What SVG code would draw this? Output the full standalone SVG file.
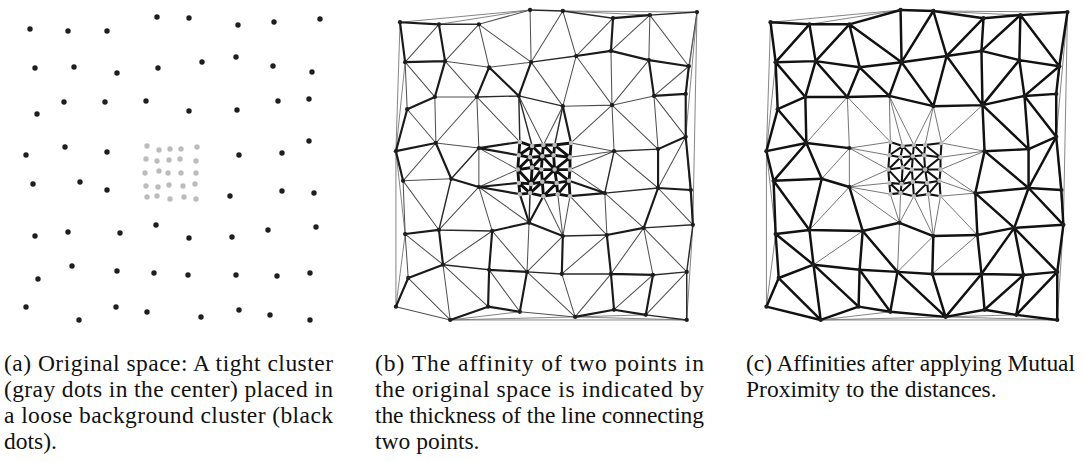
<svg xmlns="http://www.w3.org/2000/svg" xmlns:xlink="http://www.w3.org/1999/xlink" width="1084" height="462" viewBox="0 0 1084 462">
<style>
.e{fill:none;stroke-linecap:round;stroke-linejoin:round}
.hl{stroke:#7a7a7a;stroke-width:0.9}
.bL{stroke:#505050;stroke-width:1}
.bM{stroke:#2a2a2a;stroke-width:1.4}
.bT{stroke:#1a1a1a;stroke-width:2.1}
.bK{stroke:#111;stroke-width:2.8}
.cL{stroke:#6a6a6a;stroke-width:0.9}
.cT{stroke:#111;stroke-width:2.4}
.cK{stroke:#111;stroke-width:2}
.bk{fill:#1e1e1e}
.gr{fill:#bcbcbc}
.cap{font-family:"Liberation Serif","Times New Roman",serif;font-size:23.5px;fill:#111}
</style>
<defs>
<path id="hull" d="M30 29 157 17M68 31 157 17M189 18 320 19M189 18 274 22M30 29 26 155M35 68 26 155M26 155 26 307M26 155 35 236M35 236 26 307M320 19 316 227M320 19 309 99M320 19 309 141M309 141 316 227M316 227 310 320M79 320 310 320M79 320 147 312M79 320 201 317M201 317 310 320M201 317 270 315"/>
<path id="g1" d="M30 29 68 31M238 25 274 22M30 29 35 68M68 31 74 67M238 25 236 57M35 68 74 67M202 62 236 57M236 57 273 66M273 66 312 72M74 67 64 102M117 73 105 102M117 73 146 101M158 68 146 101M273 66 278 101M312 72 309 99M37 114 64 102M278 101 309 99M37 114 26 155M309 99 309 141M26 155 65 147M282 153 309 141M26 155 33 184M65 147 80 182M282 153 282 191M309 141 314 193M80 182 107 190M282 191 314 193M282 191 268 230M314 193 316 227M35 236 68 232M120 233 156 225M156 225 189 238M232 237 268 230M68 232 72 266M120 233 117 271M189 238 188 275M232 237 236 275M38 279 72 266M117 271 154 273M236 275 277 276M38 279 26 307M117 271 116 307M154 273 147 312M236 275 239 310M277 276 270 315M79 320 116 307M116 307 147 312M201 317 239 310M239 310 270 315"/>
<path id="g2" d="M189 111 197 147M107 152 147 146M107 152 146 159M107 190 146 186M107 190 147 197M230 196 195 184M230 196 196 199M156 225 147 197M156 225 170 199"/>
<path id="g3" d="M68 31 107 31M157 17 189 18M189 18 238 25M274 22 320 19M158 68 202 62M105 102 146 101M146 101 189 111M239 155 282 153M239 155 230 196M230 196 282 191M80 182 68 232M68 232 120 233M189 238 232 237M268 230 316 227M316 227 310 273M72 266 117 271M154 273 188 275M188 275 236 275M277 276 310 273M310 273 310 320M270 315 310 320"/>
<path id="g4" d="M146 101 147 146M146 101 159 150M189 111 181 149M107 152 80 182M156 225 157 196"/>
<path id="g5" d="M107 31 157 17M68 31 35 68M107 31 74 67M107 31 117 73M107 31 158 68M157 17 158 68M189 18 158 68M189 18 202 62M238 25 202 62M274 22 236 57M274 22 273 66M274 22 312 72M320 19 312 72M74 67 117 73M117 73 158 68M35 68 37 114M35 68 64 102M74 67 105 102M158 68 189 111M202 62 189 111M202 62 237 110M236 57 237 110M273 66 237 110M312 72 278 101M64 102 105 102M189 111 237 110M237 110 278 101M37 114 65 147M64 102 65 147M237 110 239 155M237 110 282 153M278 101 282 153M278 101 309 141M65 147 107 152M65 147 33 184M239 155 282 191M309 141 282 191M33 184 80 182M33 184 35 236M33 184 68 232M107 190 120 233M230 196 232 237M230 196 268 230M282 191 316 227M35 236 38 279M35 236 72 266M120 233 154 273M268 230 236 275M268 230 277 276M268 230 310 273M38 279 79 320M72 266 79 320M72 266 116 307M117 271 147 312M154 273 201 317M188 275 201 317M236 275 201 317M277 276 239 310M310 273 270 315M26 307 79 320M147 312 201 317"/>
<path id="g6" d="M105 102 65 147M105 102 107 152M105 102 147 146M146 101 170 149M189 111 170 149M237 110 197 147M239 155 197 147M107 152 107 190M107 152 145 173M107 190 145 173M239 155 196 161M239 155 196 173M230 196 196 173M107 190 68 232M107 190 156 225M189 238 170 199M189 238 184 197M189 238 196 199M196 199 232 237M120 233 72 266M156 225 154 273M189 238 154 273M232 237 188 275"/>
<path id="kin" d="M147 146 159 150M159 150 170 149M170 149 181 149M181 149 197 147M146 159 157 161M157 161 169 160M169 160 180 159M180 159 196 161M145 173 159 171M159 171 168 173M168 173 181 173M181 173 196 173M146 186 158 187M158 187 169 185M169 185 183 186M183 186 195 184M147 197 157 196M157 196 170 199M170 199 184 197M184 197 196 199M147 146 146 159M146 159 145 173M145 173 146 186M146 186 147 197M159 150 157 161M157 161 159 171M159 171 158 187M158 187 157 196M170 149 169 160M169 160 168 173M168 173 169 185M169 185 170 199M181 149 180 159M180 159 181 173M181 173 183 186M183 186 184 197M197 147 196 161M196 161 196 173M196 173 195 184M195 184 196 199M159 150 146 159M159 150 169 160M170 149 180 159M181 149 196 161M157 161 145 173M169 160 159 171M169 160 181 173M196 161 181 173M145 173 158 187M168 173 158 187M181 173 169 185M181 173 195 184M146 186 157 196M169 185 157 196M183 186 170 199M195 184 184 197"/>
<g id="dots">
<g class="bk">
<circle cx="30" cy="29" r="2.1"/><circle cx="68" cy="31" r="2.1"/><circle cx="107" cy="31" r="2.1"/><circle cx="157" cy="17" r="2.1"/><circle cx="189" cy="18" r="2.1"/><circle cx="238" cy="25" r="2.1"/><circle cx="274" cy="22" r="2.1"/><circle cx="320" cy="19" r="2.1"/>
<circle cx="35" cy="68" r="2.1"/><circle cx="74" cy="67" r="2.1"/><circle cx="117" cy="73" r="2.1"/><circle cx="158" cy="68" r="2.1"/><circle cx="202" cy="62" r="2.1"/><circle cx="236" cy="57" r="2.1"/><circle cx="273" cy="66" r="2.1"/><circle cx="312" cy="72" r="2.1"/>
<circle cx="37" cy="114" r="2.1"/><circle cx="64" cy="102" r="2.1"/><circle cx="105" cy="102" r="2.1"/><circle cx="146" cy="101" r="2.1"/><circle cx="189" cy="111" r="2.1"/><circle cx="237" cy="110" r="2.1"/><circle cx="278" cy="101" r="2.1"/><circle cx="309" cy="99" r="2.1"/>
<circle cx="26" cy="155" r="2.1"/><circle cx="65" cy="147" r="2.1"/><circle cx="107" cy="152" r="2.1"/><circle cx="239" cy="155" r="2.1"/><circle cx="282" cy="153" r="2.1"/><circle cx="309" cy="141" r="2.1"/>
<circle cx="33" cy="184" r="2.1"/><circle cx="80" cy="182" r="2.1"/><circle cx="107" cy="190" r="2.1"/><circle cx="230" cy="196" r="2.1"/><circle cx="282" cy="191" r="2.1"/><circle cx="314" cy="193" r="2.1"/>
<circle cx="35" cy="236" r="2.1"/><circle cx="68" cy="232" r="2.1"/><circle cx="120" cy="233" r="2.1"/><circle cx="156" cy="225" r="2.1"/><circle cx="189" cy="238" r="2.1"/><circle cx="232" cy="237" r="2.1"/><circle cx="268" cy="230" r="2.1"/><circle cx="316" cy="227" r="2.1"/>
<circle cx="38" cy="279" r="2.1"/><circle cx="72" cy="266" r="2.1"/><circle cx="117" cy="271" r="2.1"/><circle cx="154" cy="273" r="2.1"/><circle cx="188" cy="275" r="2.1"/><circle cx="236" cy="275" r="2.1"/><circle cx="277" cy="276" r="2.1"/><circle cx="310" cy="273" r="2.1"/>
<circle cx="26" cy="307" r="2.1"/><circle cx="79" cy="320" r="2.1"/><circle cx="116" cy="307" r="2.1"/><circle cx="147" cy="312" r="2.1"/><circle cx="201" cy="317" r="2.1"/><circle cx="239" cy="310" r="2.1"/><circle cx="270" cy="315" r="2.1"/><circle cx="310" cy="320" r="2.1"/>
</g>
<g class="gr">
<circle cx="147" cy="146" r="2.2"/><circle cx="159" cy="150" r="2.2"/><circle cx="170" cy="149" r="2.2"/><circle cx="181" cy="149" r="2.2"/><circle cx="197" cy="147" r="2.2"/>
<circle cx="146" cy="159" r="2.2"/><circle cx="157" cy="161" r="2.2"/><circle cx="169" cy="160" r="2.2"/><circle cx="180" cy="159" r="2.2"/><circle cx="196" cy="161" r="2.2"/>
<circle cx="145" cy="173" r="2.2"/><circle cx="159" cy="171" r="2.2"/><circle cx="168" cy="173" r="2.2"/><circle cx="181" cy="173" r="2.2"/><circle cx="196" cy="173" r="2.2"/>
<circle cx="146" cy="186" r="2.2"/><circle cx="158" cy="187" r="2.2"/><circle cx="169" cy="185" r="2.2"/><circle cx="183" cy="186" r="2.2"/><circle cx="195" cy="184" r="2.2"/>
<circle cx="147" cy="197" r="2.2"/><circle cx="157" cy="196" r="2.2"/><circle cx="170" cy="199" r="2.2"/><circle cx="184" cy="197" r="2.2"/><circle cx="196" cy="199" r="2.2"/>
</g>
</g>
</defs>
<rect width="1084" height="462" fill="#fff"/>

<g id="panel-a">
<g id="a-black-dots" class="bk">
<circle cx="30" cy="29" r="2.7"/><circle cx="68" cy="31" r="2.7"/><circle cx="107" cy="31" r="2.7"/><circle cx="157" cy="17" r="2.7"/><circle cx="189" cy="18" r="2.7"/><circle cx="238" cy="25" r="2.7"/><circle cx="274" cy="22" r="2.7"/><circle cx="320" cy="19" r="2.7"/>
<circle cx="35" cy="68" r="2.7"/><circle cx="74" cy="67" r="2.7"/><circle cx="117" cy="73" r="2.7"/><circle cx="158" cy="68" r="2.7"/><circle cx="202" cy="62" r="2.7"/><circle cx="236" cy="57" r="2.7"/><circle cx="273" cy="66" r="2.7"/><circle cx="312" cy="72" r="2.7"/>
<circle cx="37" cy="114" r="2.7"/><circle cx="64" cy="102" r="2.7"/><circle cx="105" cy="102" r="2.7"/><circle cx="146" cy="101" r="2.7"/><circle cx="189" cy="111" r="2.7"/><circle cx="237" cy="110" r="2.7"/><circle cx="278" cy="101" r="2.7"/><circle cx="309" cy="99" r="2.7"/>
<circle cx="26" cy="155" r="2.7"/><circle cx="65" cy="147" r="2.7"/><circle cx="107" cy="152" r="2.7"/><circle cx="239" cy="155" r="2.7"/><circle cx="282" cy="153" r="2.7"/><circle cx="309" cy="141" r="2.7"/>
<circle cx="33" cy="184" r="2.7"/><circle cx="80" cy="182" r="2.7"/><circle cx="107" cy="190" r="2.7"/><circle cx="230" cy="196" r="2.7"/><circle cx="282" cy="191" r="2.7"/><circle cx="314" cy="193" r="2.7"/>
<circle cx="35" cy="236" r="2.7"/><circle cx="68" cy="232" r="2.7"/><circle cx="120" cy="233" r="2.7"/><circle cx="156" cy="225" r="2.7"/><circle cx="189" cy="238" r="2.7"/><circle cx="232" cy="237" r="2.7"/><circle cx="268" cy="230" r="2.7"/><circle cx="316" cy="227" r="2.7"/>
<circle cx="38" cy="279" r="2.7"/><circle cx="72" cy="266" r="2.7"/><circle cx="117" cy="271" r="2.7"/><circle cx="154" cy="273" r="2.7"/><circle cx="188" cy="275" r="2.7"/><circle cx="236" cy="275" r="2.7"/><circle cx="277" cy="276" r="2.7"/><circle cx="310" cy="273" r="2.7"/>
<circle cx="26" cy="307" r="2.7"/><circle cx="79" cy="320" r="2.7"/><circle cx="116" cy="307" r="2.7"/><circle cx="147" cy="312" r="2.7"/><circle cx="201" cy="317" r="2.7"/><circle cx="239" cy="310" r="2.7"/><circle cx="270" cy="315" r="2.7"/><circle cx="310" cy="320" r="2.7"/>
</g>
<g id="a-gray-dots" class="gr">
<circle cx="147" cy="146" r="2.7"/><circle cx="159" cy="150" r="2.7"/><circle cx="170" cy="149" r="2.7"/><circle cx="181" cy="149" r="2.7"/><circle cx="197" cy="147" r="2.7"/>
<circle cx="146" cy="159" r="2.7"/><circle cx="157" cy="161" r="2.7"/><circle cx="169" cy="160" r="2.7"/><circle cx="180" cy="159" r="2.7"/><circle cx="196" cy="161" r="2.7"/>
<circle cx="145" cy="173" r="2.7"/><circle cx="159" cy="171" r="2.7"/><circle cx="168" cy="173" r="2.7"/><circle cx="181" cy="173" r="2.7"/><circle cx="196" cy="173" r="2.7"/>
<circle cx="146" cy="186" r="2.7"/><circle cx="158" cy="187" r="2.7"/><circle cx="169" cy="185" r="2.7"/><circle cx="183" cy="186" r="2.7"/><circle cx="195" cy="184" r="2.7"/>
<circle cx="147" cy="197" r="2.7"/><circle cx="157" cy="196" r="2.7"/><circle cx="170" cy="199" r="2.7"/><circle cx="184" cy="197" r="2.7"/><circle cx="196" cy="199" r="2.7"/>
</g>
</g>

<g id="panel-b" transform="matrix(1.024 0 0 1.023 369.3 -7.4)">
<g id="b-connectors" class="e">
<use href="#hull" class="hl"/>
<use href="#g5" class="bL"/>
<use href="#g6" class="bL"/>
<use href="#g3" class="bM"/>
<use href="#g4" class="bM"/>
<use href="#g1" class="bT"/>
<use href="#g2" class="bT"/>
<use href="#kin" class="bK"/>
</g>
<use id="b-dots" href="#dots"/>
</g>

<g id="panel-c" transform="matrix(1.024 0 0 1.023 739.8 -7.4)">
<g id="c-connectors" class="e">
<use href="#hull" class="hl"/>
<use href="#g2" class="cL"/>
<use href="#g4" class="cL"/>
<use href="#g6" class="cL"/>
<use href="#g1" class="cT"/>
<use href="#g3" class="cT"/>
<use href="#g5" class="cT"/>
<use href="#kin" class="cK"/>
</g>
<use id="c-dots" href="#dots"/>
</g>

<g id="captions" class="cap">
<text x="4" y="371" textLength="329" lengthAdjust="spacing">(a) Original space: A tight cluster</text>
<text x="4" y="397" textLength="329" lengthAdjust="spacing">(gray dots in the center) placed in</text>
<text x="4" y="423" textLength="329" lengthAdjust="spacing">a loose background cluster (black</text>
<text x="4" y="449">dots).</text>
<text x="375" y="371" textLength="329" lengthAdjust="spacing">(b) The affinity of two points in</text>
<text x="375" y="397" textLength="329" lengthAdjust="spacing">the original space is indicated by</text>
<text x="375" y="423" textLength="329" lengthAdjust="spacing">the thickness of the line connecting</text>
<text x="375" y="449">two points.</text>
<text x="746" y="371" textLength="329" lengthAdjust="spacing">(c) Affinities after applying Mutual</text>
<text x="746" y="397">Proximity to the distances.</text>
</g>
</svg>
